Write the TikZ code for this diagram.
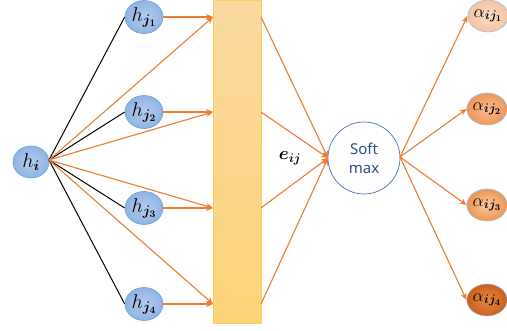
\RequirePackage{fix-cm}
\documentclass[tikz,border=0pt]{standalone}
\usepackage{fontspec}
\usepackage{bm}
\newfontfamily\smfont{Noto Sans}
\usetikzlibrary{arrows.meta,shapes.geometric}
\definecolor{orng}{HTML}{ED7D31}
\definecolor{hblue}{HTML}{8FB4E3}
\definecolor{hblueL}{HTML}{B4CDEE}
\definecolor{hborder}{HTML}{6F9FD8}
\definecolor{smblue}{HTML}{4A6DB5}
\definecolor{smtext}{HTML}{2F4A8A}
\definecolor{aborder}{HTML}{9DC3E6}
\tikzset{
  hnode/.style={ellipse,minimum width=38pt,minimum height=33pt,inner sep=0pt,draw=hborder,line width=0.6pt,inner color=hblueL,outer color=hblue,font=\fontsize{20}{20}\selectfont},
  anode/.style={ellipse,minimum width=39pt,minimum height=32pt,inner sep=0pt,draw=aborder,line width=0.6pt,font=\fontsize{18}{18}\selectfont},
  oarr/.style={orng,line width=1.1pt,-{Stealth[length=7pt,width=6pt]}},
  bline/.style={black,line width=1pt}
}
\begin{document}
\begin{tikzpicture}[x=1pt,y=-1pt]
\useasboundingbox (0,0) rectangle (507,331);
% bar
\node[draw={rgb,255:red,252;green,204;blue,92},line width=0.6pt,top color={rgb,255:red,250;green,217;blue,160},bottom color={rgb,255:red,252;green,212;blue,120},minimum width=48pt,minimum height=323pt,inner sep=0pt] (bar) at (237,161.5) {};
\coordinate (in1) at (213,17);
\coordinate (in2) at (213,112);
\coordinate (in3) at (213,208);
\coordinate (in4) at (213,304);
\coordinate (out1) at (261,17);
\coordinate (out2) at (261,112);
\coordinate (out3) at (261,208);
\coordinate (out4) at (261,304);
% nodes
\node[hnode,minimum width=36pt,minimum height=32pt] (hi) at (31,162) {$h_{\bm{i}}$};
\coordinate (src) at (49,160);
\node[hnode] (hj1) at (144,17) {$h_{\bm{j_1}}$};
\node[hnode] (hj2) at (144,112) {$h_{\bm{j_2}}$};
\node[hnode] (hj3) at (144,208) {$h_{\bm{j_3}}$};
\node[hnode] (hj4) at (144,304) {$h_{\bm{j_4}}$};
\node[circle,draw=smblue,line width=0.7pt,minimum size=72pt,inner sep=0pt,align=center,text=smtext,font=\smfont\fontsize{15}{19}\selectfont] (sm) at (364,158) {Soft\\max};
\node (e) at (290,158) {\fontsize{18}{18}\selectfont$\bm{e_{ij}}$};
\node[anode,inner color={rgb,255:red,251;green,221;blue,199},outer color={rgb,255:red,246;green,196;blue,160}] (a1) at (488,16) {$\alpha_{\bm{ij_1}}$};
\node[anode,inner color={rgb,255:red,248;green,190;blue,147},outer color={rgb,255:red,240;green,150;blue,88}] (a2) at (487,109) {$\alpha_{\bm{ij_2}}$};
\node[anode,inner color={rgb,255:red,250;green,205;blue,165},outer color={rgb,255:red,236;green,148;blue,80}] (a3) at (487,205) {$\alpha_{\bm{ij_3}}$};
\node[anode,inner color={rgb,255:red,236;green,140;blue,70},outer color={rgb,255:red,200;green,95;blue,25}] (a4) at (487,300) {$\alpha_{\bm{ij_4}}$};
% black lines
\draw[bline] (src) -- (hj1.west);
\draw[bline] (src) -- (hj2.west);
\draw[bline] (src) -- (hj3.west);
\draw[bline] (src) -- (hj4.west);
% orange from hi
\draw[oarr] (src) -- (in1);
\draw[oarr] (src) -- (in2);
\draw[oarr] (src) -- (in3);
\draw[oarr] (src) -- (in4);
% from hj
\draw[oarr] (hj1.east) -- (in1);
\draw[oarr] (hj2.east) -- (in2);
\draw[oarr] (hj3.east) -- (in3);
\draw[oarr] (hj4.east) -- (in4);
% to softmax
\coordinate (smin) at (328,158);
\draw[oarr] (out1) -- (smin);
\draw[oarr] (out2) -- (smin);
\draw[oarr] (out3) -- (smin);
\draw[oarr] (out4) -- (smin);
% to alphas
\coordinate (smout) at (400,157);
\draw[oarr] (smout) -- (a1.west);
\draw[oarr] (smout) -- (a2.west);
\draw[oarr] (smout) -- (a3.west);
\draw[oarr] (smout) -- (a4.west);
\end{tikzpicture}
\end{document}
